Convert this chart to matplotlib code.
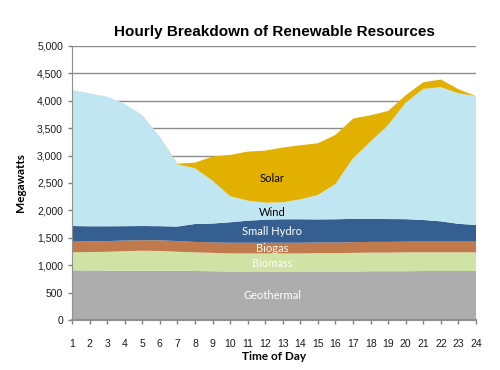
import matplotlib
matplotlib.use('Agg')
import matplotlib.pyplot as plt
import numpy as np

hours = list(range(1, 25))

geothermal = [905, 905, 900, 900, 900, 900, 900, 895, 890, 885, 885, 885,
              885, 885, 885, 885, 885, 890, 890, 890, 895, 895, 895, 895]
biomass = [330, 335, 345, 355, 365, 360, 345, 340, 335, 330, 330, 330,
           330, 330, 335, 335, 340, 340, 340, 345, 340, 340, 340, 340]
biogas = [195, 195, 195, 195, 190, 195, 195, 190, 190, 195, 195, 195,
          195, 195, 195, 195, 195, 195, 195, 195, 195, 195, 195, 195]
small_hydro = [285, 275, 270, 262, 260, 257, 265, 327, 345, 373, 402, 420,
               428, 428, 420, 423, 425, 420, 417, 410, 395, 370, 325, 304]
wind = [2482, 2425, 2365, 2230, 2026, 1633, 1136, 1016, 783, 477, 366, 311,
        310, 364, 446, 644, 1106, 1410, 1717, 2126, 2391, 2447, 2382, 2348]
solar = [0, 0, 0, 0, 0, 0, 10, 103, 438, 751, 894, 949,
         998, 986, 943, 894, 723, 480, 255, 134, 121, 139, 73, 0]

names = ['Geothermal', 'Biomass', 'Biogas', 'Small Hydro', 'Wind', 'Solar']
colors = ['#adadad', '#d0e3a4', '#c17a4b', '#365f91', '#c0e7f1', '#e2b000']
label_colors = ['white', 'white', 'white', 'white', 'black', 'black']
# where each layer name sits (hour, MW)
label_pos = [(12.4, 440), (12.4, 1040), (12.4, 1300), (12.4, 1610), (12.4, 1970), (12.4, 2590)]

plt.rcParams['font.family'] = ['Liberation Sans', 'DejaVu Sans']

fig = plt.figure(figsize=(5, 3.7), dpi=100)
ax = fig.add_axes([0.144, 0.135, 0.808, 0.741])

ax.stackplot(hours, geothermal, biomass, biogas, small_hydro, wind, solar,
             colors=colors, linewidth=0, zorder=2)

for name, (hx, hy), c in zip(names, label_pos, label_colors):
    ax.text(hx, hy, name, color=c, fontsize=8, ha='center', va='center',
            family=['Lato', 'DejaVu Sans'], zorder=3)

ax.set_xlim(1, 24)
ax.set_ylim(0, 5000)
ax.set_xticks(hours)
ax.set_yticks(np.arange(0, 5001, 500))
ax.set_yticklabels([f'{v:,}' for v in range(0, 5001, 500)])
ax.tick_params(axis='both', labelsize=7.5, colors='#808080', labelcolor='#1a1a1a',
               length=3, width=1)
ax.tick_params(axis='x', pad=11)
ax.grid(axis='y', color='#8c8c8c', linewidth=1, zorder=1)
ax.set_axisbelow(True)

for s in ['top', 'right']:
    ax.spines[s].set_visible(False)
ax.spines['left'].set_color('#909090')
ax.spines['bottom'].set_color('#909090')
ax.spines['bottom'].set_linewidth(1.5)
ax.spines['bottom'].set_zorder(4)

ax.set_title('Hourly Breakdown of Renewable Resources', fontsize=11,
             fontweight='bold', pad=7)
ax.set_xlabel('Time of Day', fontsize=8.5, fontweight='bold',
              family=['Lato', 'DejaVu Sans'], labelpad=1)
ax.set_ylabel('Megawatts', fontsize=8.5, fontweight='bold',
              family=['Lato', 'DejaVu Sans'], labelpad=8)

fig.savefig('out.png', dpi=100)
